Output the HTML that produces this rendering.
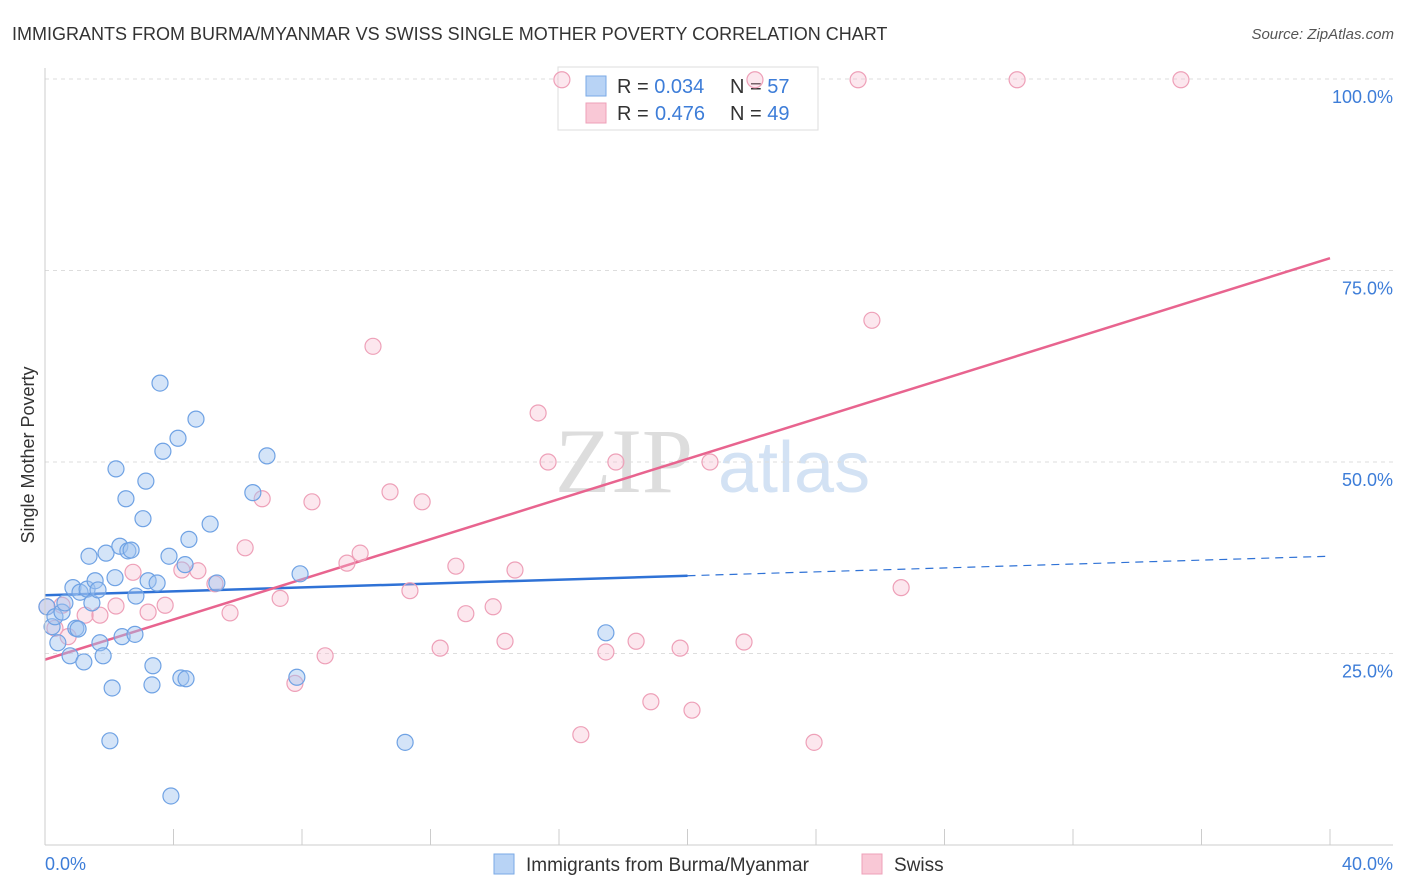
<!DOCTYPE html>
<html><head><meta charset="utf-8"><style>
body{margin:0;background:#fff;font-family:"Liberation Sans",sans-serif;}
svg{display:block}
</style></head><body>
<svg id="chart" width="1406" height="892" font-family="Liberation Sans, sans-serif">
<text x="12" y="40" font-size="18" fill="#333">IMMIGRANTS FROM BURMA/MYANMAR VS SWISS SINGLE MOTHER POVERTY CORRELATION CHART</text>
<text x="1394" y="39" font-size="15" fill="#555" font-style="italic" text-anchor="end">Source: ZipAtlas.com</text>
<text x="555" y="492" font-size="92" fill="#ddd" font-family="Liberation Serif, serif">ZIP</text>
<text x="718" y="492" font-size="72" fill="#d3e2f4">atlas</text>
<text transform="translate(34,455) rotate(-90)" font-size="18" fill="#333" text-anchor="middle">Single Mother Poverty</text>
<g id="grid"></g><g id="ticks"></g>
<g>
<rect x="558" y="67" width="260" height="63" fill="#fff" stroke="#ddd"/>
<rect x="586" y="76" width="20" height="20" fill="#b8d3f5" stroke="#7aaae6"/>
<rect x="586" y="103" width="20" height="20" fill="#f9c8d6" stroke="#eea0b8"/>
<text x="617" y="93" font-size="20" fill="#333">R = <tspan fill="#3d7dd8">0.034</tspan><tspan x="730">N = </tspan><tspan fill="#3d7dd8">57</tspan></text>
<text x="617" y="120" font-size="20" fill="#333">R = <tspan fill="#3d7dd8" x="655">0.476</tspan><tspan x="730">N = </tspan><tspan fill="#3d7dd8">49</tspan></text>
</g>
<g id="trend"></g><g id="pts"></g>
<line x1="45" y1="845" x2="1393" y2="845" stroke="#ccc"/>
<line x1="45" y1="68" x2="45" y2="845" stroke="#ccc"/>
<text x="45" y="870" font-size="18" fill="#3d7dd8">0.0%</text>
<text x="1393" y="870" font-size="18" fill="#3d7dd8" text-anchor="end">40.0%</text>
<g>
<rect x="494" y="854" width="20" height="20" fill="#b8d3f5" stroke="#7aaae6"/>
<text x="526" y="871" font-size="19" fill="#333">Immigrants from Burma/Myanmar</text>
<rect x="862" y="854" width="20" height="20" fill="#f9c8d6" stroke="#eea0b8"/>
<text x="894" y="871" font-size="19" fill="#333">Swiss</text>
</g>
</svg>
<script>
const yTicks=[25,50,75,100];
const yTickLabels=["25.0%","50.0%","75.0%","100.0%"];
const xTicks=[0,4,8,12,16,20,24,28,32,36,40];
const blueX=[0.06,0.22,0.31,0.40,0.53,0.62,0.78,0.87,0.96,1.03,1.09,1.21,1.31,1.37,1.46,1.56,1.65,1.71,1.81,1.90,2.09,2.02,2.18,2.21,2.33,2.40,2.52,2.58,2.68,2.80,2.83,3.05,3.14,3.21,3.33,3.36,3.49,3.58,3.67,3.86,3.92,4.14,4.23,4.36,4.39,4.48,4.70,5.14,5.35,6.47,6.91,7.84,7.94,11.21,17.46];
const blueY=[31.1,28.5,29.8,26.4,30.4,31.6,24.7,33.6,28.3,28.2,33.0,23.9,33.4,37.7,31.6,34.5,33.3,26.4,24.7,38.1,20.5,13.6,34.9,49.1,39.0,27.2,45.2,38.4,38.5,27.5,32.5,42.6,47.5,34.5,20.9,23.4,34.2,60.3,51.4,37.7,6.4,53.1,21.8,36.6,21.7,39.9,55.6,41.9,34.2,46.0,50.8,21.9,35.4,13.4,27.7];
const pinkX=[0.06,0.31,0.53,0.72,1.25,1.71,2.21,2.74,3.21,3.74,4.26,4.76,5.29,5.76,6.23,6.76,7.32,7.78,8.31,8.72,9.40,9.81,10.21,10.74,11.36,11.74,12.30,12.79,13.10,13.95,14.32,14.63,15.35,15.66,16.09,16.68,17.46,17.77,18.40,18.86,19.77,20.14,20.70,21.76,22.10,23.94,25.31,25.74,26.65,30.26,35.36];
const pinkY=[31.1,28.3,31.3,27.2,30.0,30.0,31.2,35.6,30.4,31.3,35.9,35.8,34.1,30.3,38.8,45.2,32.2,21.1,44.8,24.7,36.8,38.1,65.1,46.1,33.2,44.8,25.7,36.4,30.2,31.1,26.6,35.9,56.4,50.0,99.9,14.4,25.2,50.0,26.6,18.7,25.7,17.6,50.0,26.5,99.9,13.4,99.9,68.5,33.6,99.9,99.9];
const blueTrend=[32.6,37.7];
const pinkTrend=[24.2,76.6];
const NS="http://www.w3.org/2000/svg";
const sx=v=>45+v/40*1285;
const sy=v=>845-v*7.66;
function mk(tag,attrs,parent){const e=document.createElementNS(NS,tag);for(const k in attrs)e.setAttribute(k,attrs[k]);document.getElementById(parent).appendChild(e);return e;}
yTicks.forEach((t,i)=>{
 const l=mk('line',{x1:45,x2:1393,y1:sy(t),y2:sy(t),stroke:'#ddd','stroke-dasharray':'4,4'},'grid');
 
 
 const tx=mk('text',{x:1393,y:sy(t)+24,'font-size':18,fill:'#3d7dd8','text-anchor':'end'},'grid');
 tx.textContent=yTickLabels[i];
 
 
});
xTicks.forEach(t=>{
 const l=mk('line',{x1:sx(t),x2:sx(t),y1:829,y2:845,stroke:'#ccc'},'ticks');
 
 
});
const bm=v=>blueTrend[0]+(blueTrend[1]-blueTrend[0])*v/40;
let l1=mk('line',{x1:sx(0),y1:sy(bm(0)),x2:sx(20),y2:sy(bm(20)),stroke:'#2f72d6','stroke-width':2.5},'trend');


let l2=mk('line',{x1:sx(20),y1:sy(bm(20)),x2:sx(40),y2:sy(bm(40)),stroke:'#2f72d6','stroke-width':1.2,'stroke-dasharray':'8,6'},'trend');


let l3=mk('line',{x1:sx(0),y1:sy(pinkTrend[0]),x2:sx(40),y2:sy(pinkTrend[1]),stroke:'#e8648f','stroke-width':2.5},'trend');


pinkX.forEach((x,i)=>{
 const c=mk('circle',{cx:sx(x),cy:sy(pinkY[i]),r:8,fill:'rgba(246,185,205,0.35)',stroke:'#eea0b8','stroke-width':1.2},'pts');
 
 
});
blueX.forEach((x,i)=>{
 const c=mk('circle',{cx:sx(x),cy:sy(blueY[i]),r:8,fill:'rgba(160,195,240,0.45)',stroke:'#6fa2e4','stroke-width':1.2},'pts');
 
 
});
</script>
</body></html>
